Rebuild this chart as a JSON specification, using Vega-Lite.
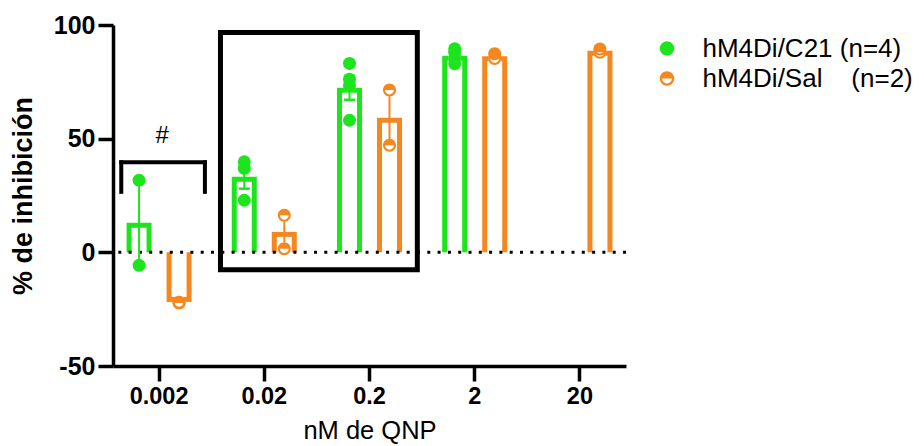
{
  "$schema": "https://vega.github.io/schema/vega-lite/v6.json",
  "width": 513,
  "height": 341,
  "autosize": {"type": "none"},
  "padding": {"left": 113, "top": 25, "right": 298, "bottom": 80},
  "background": "white",
  "config": {
    "font": "Liberation Sans",
    "view": {"stroke": null},
    "axis": {"grid": false, "domainColor": "black", "domainWidth": 3.5, "tickColor": "black", "tickWidth": 3.5, "tickSize": 15, "labelColor": "black", "titleColor": "black", "labelFontWeight": "bold"},
    "legend": {"padding": 0, "orient": "none", "legendX": 541, "legendY": 10.5, "labelFontSize": 26, "labelColor": "black", "labelFontWeight": "normal", "labelLimit": 400, "symbolSize": 210, "labelOffset": 22.5, "rowPadding": 4, "symbolStrokeWidth": 0, "symbolOpacity": 1}
  },
  "datasets": {
    "bars": [
      {"dose": "0.002", "group": "hM4Di/C21", "mean": 13.0, "lo": -6.0, "hi": 32.0},
      {"dose": "0.02", "group": "hM4Di/C21", "mean": 33.2, "lo": 28.0, "hi": 38.4},
      {"dose": "0.2", "group": "hM4Di/C21", "mean": 72.4, "lo": 67.1, "hi": 77.7},
      {"dose": "2", "group": "hM4Di/C21", "mean": 86.5, "lo": 85.1, "hi": 87.9},
      {"dose": "0.002", "group": "hM4Di/Sal", "mean": -21.8, "lo": -22.3, "hi": -21.3},
      {"dose": "0.02", "group": "hM4Di/Sal", "mean": 9.0, "lo": 1.6, "hi": 16.3},
      {"dose": "0.2", "group": "hM4Di/Sal", "mean": 59.2, "lo": 47.1, "hi": 71.4},
      {"dose": "2", "group": "hM4Di/Sal", "mean": 86.3, "lo": 85.3, "hi": 87.3},
      {"dose": "20", "group": "hM4Di/Sal", "mean": 88.7, "lo": 88.0, "hi": 89.4}
    ],
    "points": [
      {"dose": "0.002", "group": "hM4Di/C21", "value": 31.7},
      {"dose": "0.002", "group": "hM4Di/C21", "value": -5.7},
      {"dose": "0.02", "group": "hM4Di/C21", "value": 39.8},
      {"dose": "0.02", "group": "hM4Di/C21", "value": 36.9},
      {"dose": "0.02", "group": "hM4Di/C21", "value": 22.9},
      {"dose": "0.2", "group": "hM4Di/C21", "value": 83.1},
      {"dose": "0.2", "group": "hM4Di/C21", "value": 76.1},
      {"dose": "0.2", "group": "hM4Di/C21", "value": 73.3},
      {"dose": "0.2", "group": "hM4Di/C21", "value": 58.1},
      {"dose": "2", "group": "hM4Di/C21", "value": 89.5},
      {"dose": "2", "group": "hM4Di/C21", "value": 88.0},
      {"dose": "2", "group": "hM4Di/C21", "value": 85.5},
      {"dose": "2", "group": "hM4Di/C21", "value": 83.0},
      {"dose": "0.002", "group": "hM4Di/Sal", "value": -22.3},
      {"dose": "0.002", "group": "hM4Di/Sal", "value": -22.0},
      {"dose": "0.02", "group": "hM4Di/Sal", "value": 16.3},
      {"dose": "0.02", "group": "hM4Di/Sal", "value": 1.6},
      {"dose": "0.2", "group": "hM4Di/Sal", "value": 71.4},
      {"dose": "0.2", "group": "hM4Di/Sal", "value": 47.1},
      {"dose": "2", "group": "hM4Di/Sal", "value": 87.3},
      {"dose": "2", "group": "hM4Di/Sal", "value": 85.3},
      {"dose": "20", "group": "hM4Di/Sal", "value": 89.4},
      {"dose": "20", "group": "hM4Di/Sal", "value": 88.0}
    ],
    "box": [{"dose": "0.02", "dose2": "0.2", "top": 96.7, "bottom": -7.7}],
    "bracket": [{"dose": "0.002", "top": 39.6, "leg": 26.6, "labely": 51.0, "label": "#"}]
  },
  "layer": [
    {
      "data": {"name": "bars"},
      "mark": {"type": "bar", "opacity": 1},
      "encoding": {
        "x": {"field": "dose", "type": "nominal", "sort": null,
          "scale": {"type": "band", "domain": ["0.002", "0.02", "0.2", "2", "20"], "paddingInner": 0.3, "paddingOuter": 0.088},
          "axis": {"title": "nM de QNP", "labelAngle": 0, "labelFontSize": 23.5, "labelPadding": 3, "titleFontSize": 25.5, "titleFontWeight": "normal", "titlePadding": 11}},
        "xOffset": {"field": "group", "type": "nominal", "scale": {"domain": ["hM4Di/C21", "hM4Di/Sal"], "paddingInner": 0.375, "paddingOuter": 0.1075}},
        "y": {"field": "mean", "type": "quantitative",
          "scale": {"domain": [-50, 100], "nice": false, "zero": false},
          "axis": {"title": "% de inhibición", "values": [-50, 0, 50, 100], "labelExpr": "datum.value < 0 ? '-' + abs(datum.value) : '' + datum.value", "labelFontSize": 25, "labelPadding": 3, "titleFontSize": 27, "titleFontWeight": "bold", "titlePadding": 16}},
        "fill": {"field": "group", "type": "nominal", "scale": {"domain": ["hM4Di/C21", "hM4Di/Sal"], "range": ["#1de51d", "#f5871f"]},
          "legend": {"title": null, "labelExpr": "datum.label == 'hM4Di/C21' ? 'hM4Di/C21 (n=4)' : 'hM4Di/Sal\u00a0\u00a0\u00a0\u00a0(n=2)'"}}
      }
    },
    {
      "data": {"name": "bars"},
      "transform": [{"filter": "datum.mean > 0"}],
      "mark": {"type": "bar", "fill": "white", "opacity": 1, "width": 15, "yOffset": 5},
      "encoding": {
        "x": {"field": "dose", "type": "nominal"},
        "xOffset": {"field": "group", "type": "nominal"},
        "y": {"field": "mean", "type": "quantitative"}
      }
    },
    {
      "data": {"name": "bars"},
      "transform": [{"filter": "datum.mean < 0"}],
      "mark": {"type": "bar", "fill": "white", "opacity": 1, "width": 15, "yOffset": -5},
      "encoding": {
        "x": {"field": "dose", "type": "nominal"},
        "xOffset": {"field": "group", "type": "nominal"},
        "y": {"field": "mean", "type": "quantitative"}
      }
    },
    {
      "data": {"values": [{}]},
      "mark": {"type": "rule", "color": "black", "strokeWidth": 3, "strokeDash": [3, 7.3]},
      "encoding": {"y": {"datum": 0}}
    },
    {
      "data": {"name": "bars"},
      "mark": {"type": "rule", "strokeWidth": 2, "opacity": 1},
      "encoding": {
        "x": {"field": "dose", "type": "nominal"},
        "xOffset": {"field": "group", "type": "nominal"},
        "y": {"field": "lo", "type": "quantitative"},
        "y2": {"field": "hi"},
        "stroke": {"field": "group", "type": "nominal", "scale": {"domain": ["hM4Di/C21", "hM4Di/Sal"], "range": ["#1de51d", "#f5871f"]},
          "legend": {"title": null, "labelExpr": "datum.label == 'hM4Di/C21' ? 'hM4Di/C21 (n=4)' : 'hM4Di/Sal\u00a0\u00a0\u00a0\u00a0(n=2)'"}}
      }
    },
    {
      "data": {"name": "bars"},
      "mark": {"type": "point", "shape": "M-1,0L1,0", "filled": false, "size": 121, "strokeWidth": 2.5, "opacity": 1},
      "encoding": {
        "x": {"field": "dose", "type": "nominal"},
        "xOffset": {"field": "group", "type": "nominal"},
        "y": {"field": "lo", "type": "quantitative"},
        "stroke": {"field": "group", "type": "nominal"}
      }
    },
    {
      "data": {"name": "bars"},
      "mark": {"type": "point", "shape": "M-1,0L1,0", "filled": false, "size": 121, "strokeWidth": 2.5, "opacity": 1},
      "encoding": {
        "x": {"field": "dose", "type": "nominal"},
        "xOffset": {"field": "group", "type": "nominal"},
        "y": {"field": "hi", "type": "quantitative"},
        "stroke": {"field": "group", "type": "nominal"}
      }
    },
    {
      "data": {"name": "points"},
      "mark": {"type": "point", "shape": "circle", "filled": true, "fill": "white", "opacity": 1, "size": 160, "strokeWidth": 0},
      "encoding": {
        "x": {"field": "dose", "type": "nominal"},
        "xOffset": {"field": "group", "type": "nominal"},
        "y": {"field": "value", "type": "quantitative"}
      }
    },
    {
      "data": {"name": "points"},
      "mark": {"type": "point", "filled": true, "opacity": 1, "size": 169, "strokeWidth": 0},
      "encoding": {
        "x": {"field": "dose", "type": "nominal"},
        "xOffset": {"field": "group", "type": "nominal"},
        "y": {"field": "value", "type": "quantitative"},
        "color": {"field": "group", "type": "nominal",
          "scale": {"domain": ["hM4Di/C21", "hM4Di/Sal"], "range": ["#1de51d", "#f5871f"]},
          "legend": {"title": null, "labelExpr": "datum.label == 'hM4Di/C21' ? 'hM4Di/C21 (n=4)' : 'hM4Di/Sal\u00a0\u00a0\u00a0\u00a0(n=2)'"}},
        "shape": {"field": "group", "type": "nominal",
          "scale": {"domain": ["hM4Di/C21", "hM4Di/Sal"], "range": ["circle", "M-1,0A1,1 0 0,1 1,0A1,1 0 0,1 -1,0Z M-0.68,0A0.68,0.68 0 0,0 0.68,0Z"]},
          "legend": {"title": null, "labelExpr": "datum.label == 'hM4Di/C21' ? 'hM4Di/C21 (n=4)' : 'hM4Di/Sal\u00a0\u00a0\u00a0\u00a0(n=2)'"}}
      }
    },
    {
      "data": {"name": "box"},
      "mark": {"type": "rect", "filled": false, "stroke": "black", "strokeWidth": 5, "xOffset": -7, "x2Offset": 11},
      "encoding": {
        "x": {"field": "dose", "type": "nominal", "bandPosition": 0},
        "x2": {"field": "dose2", "bandPosition": 1},
        "y": {"field": "top", "type": "quantitative"},
        "y2": {"field": "bottom"}
      }
    },
    {
      "data": {"name": "bracket"},
      "mark": {"type": "rule", "color": "black", "strokeWidth": 4, "strokeCap": "square", "xOffset": -1, "x2Offset": 9},
      "encoding": {
        "x": {"field": "dose", "type": "nominal", "bandPosition": 0},
        "x2": {"field": "dose", "bandPosition": 1},
        "y": {"field": "top", "type": "quantitative"}
      }
    },
    {
      "data": {"name": "bracket"},
      "mark": {"type": "rule", "color": "black", "strokeWidth": 4, "strokeCap": "square", "xOffset": -1},
      "encoding": {
        "x": {"field": "dose", "type": "nominal", "bandPosition": 0},
        "y": {"field": "leg", "type": "quantitative"},
        "y2": {"field": "top"}
      }
    },
    {
      "data": {"name": "bracket"},
      "mark": {"type": "rule", "color": "black", "strokeWidth": 4, "strokeCap": "square", "xOffset": 9},
      "encoding": {
        "x": {"field": "dose", "type": "nominal", "bandPosition": 1},
        "y": {"field": "leg", "type": "quantitative"},
        "y2": {"field": "top"}
      }
    },
    {
      "data": {"name": "bracket"},
      "mark": {"type": "text", "fontSize": 24, "color": "black", "xOffset": 3, "baseline": "middle"},
      "encoding": {
        "x": {"field": "dose", "type": "nominal"},
        "y": {"field": "labely", "type": "quantitative"},
        "text": {"field": "label"}
      }
    }
  ]
}
